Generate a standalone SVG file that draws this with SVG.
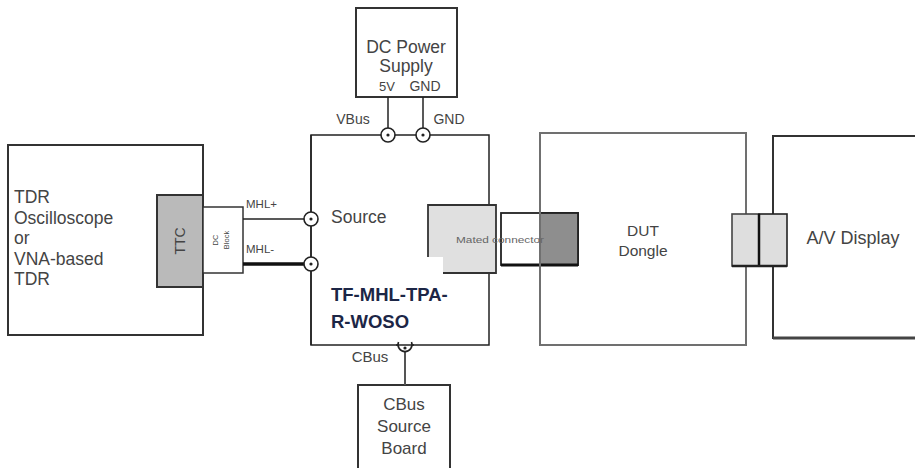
<svg xmlns="http://www.w3.org/2000/svg" width="915" height="468" viewBox="0 0 915 468">
<style>
text{font-family:"Liberation Sans",Arial,sans-serif;fill:#444}
.box{fill:#fff;stroke:#333;stroke-width:2}
.gbox{fill:#fff;stroke:#707070;stroke-width:2}
.wire{stroke:#222;stroke-width:1.5;fill:none}
.port{fill:#fff;stroke:#222;stroke-width:1.6}
.dot{fill:#222}
</style>
<defs>
<g id="port"><circle class="port" r="7"/><circle class="dot" r="1.6"/></g>
</defs>

<g id="tdr">
<rect class="box" x="8" y="145" width="195" height="190"/>
<text x="14" y="203" font-size="17.5">TDR</text>
<text x="14" y="223.5" font-size="17.5">Oscilloscope</text>
<text x="14" y="244" font-size="17.5">or</text>
<text x="14" y="264.5" font-size="17.5">VNA-based</text>
<text x="14" y="285" font-size="17.5">TDR</text>
</g>
<g id="ttc">
<rect x="157" y="195" width="46" height="92" fill="#bababa" stroke="#333" stroke-width="2"/>
<text transform="translate(185,241) rotate(-90)" font-size="14" text-anchor="middle">TTC</text>
</g>
<g id="dcblock">
<rect x="203" y="207" width="40" height="66" fill="#fff" stroke="#333" stroke-width="1.5"/>
<text transform="translate(218,240) rotate(-90)" font-size="7.5" text-anchor="middle">DC</text>
<text transform="translate(229,240) rotate(-90)" font-size="7.5" text-anchor="middle">Block</text>
</g>

<g id="dcpower">
<rect class="box" x="356" y="8" width="101" height="89"/>
<text x="406" y="53" font-size="17.5" text-anchor="middle">DC Power</text>
<text x="406" y="72" font-size="17.5" text-anchor="middle">Supply</text>
<text x="387" y="91" font-size="13" text-anchor="middle">5V</text>
<text x="425" y="91" font-size="14" text-anchor="middle">GND</text>
</g>

<g id="tfmhl">
<rect x="311" y="135" width="178" height="210" fill="#fff" stroke="#222" stroke-width="1.5"/>
<text x="331" y="223" font-size="17.5">Source</text>
<text x="331" y="301" font-size="18.5" font-weight="bold" style="fill:#1c2646">TF-MHL-TPA-</text>
<text x="331" y="328" font-size="18.5" font-weight="bold" style="fill:#1c2646">R-WOSO</text>
<text x="353" y="124" font-size="14" text-anchor="middle">VBus</text>
<text x="449" y="124" font-size="14" text-anchor="middle">GND</text>
<text x="370" y="362" font-size="15" text-anchor="middle">CBus</text>
</g>

<g id="cbus">
<rect class="box" x="358" y="385" width="92" height="95"/>
<text x="404" y="410" font-size="17" text-anchor="middle">CBus</text>
<text x="404" y="432" font-size="17" text-anchor="middle">Source</text>
<text x="404" y="454" font-size="17" text-anchor="middle">Board</text>
</g>

<g id="dut">
<rect class="gbox" x="540" y="133" width="206" height="212"/>
<text x="643" y="236" font-size="15.5" text-anchor="middle">DUT</text>
<text x="643" y="256" font-size="15.5" text-anchor="middle">Dongle</text>
</g>

<g id="display">
<rect class="box" x="773" y="136" width="160" height="202"/>
<line x1="773" y1="338" x2="915" y2="338" stroke="#444" stroke-width="3"/>
<text x="853" y="244" font-size="18" text-anchor="middle">A/V Display</text>
</g>

<g id="connectors">
<line class="wire" x1="243" y1="219" x2="311" y2="219"/>
<line x1="243" y1="264" x2="311" y2="264" stroke="#111" stroke-width="3.5"/>
<text x="246" y="208" font-size="11.5">MHL+</text>
<text x="246" y="253" font-size="11.5">MHL-</text>
<line x1="311" y1="135" x2="311" y2="345" stroke="#222" stroke-width="1.5"/>
<use href="#port" x="311" y="219"/>
<use href="#port" x="311" y="264"/>
<line class="wire" x1="388" y1="97" x2="388" y2="135"/>
<line class="wire" x1="423" y1="97" x2="423" y2="135"/>
<use href="#port" x="388" y="135"/>
<use href="#port" x="423" y="135"/>
<line x1="405" y1="345" x2="405" y2="385" stroke="#555" stroke-width="2"/>
<path d="M398.5,342 A7,7 0 1,0 411.5,342" fill="#fff" stroke="#222" stroke-width="1.6"/>
<line x1="396" y1="345" x2="414" y2="345" stroke="#222" stroke-width="1.5"/>
<circle class="dot" cx="405" cy="348" r="1.6"/>

<path d="M428,205 H496 V273 H443 V257 H428 Z" fill="#e0e0e0" stroke="none"/>
<path d="M428,257 V205 H496 V273 H443" fill="none" stroke="#333" stroke-width="1.8"/>
<rect x="501" y="213" width="77" height="52" fill="#fff" stroke="#222" stroke-width="1.8"/>
<rect x="540" y="213" width="38" height="52" fill="#8e8e8e" stroke="#222" stroke-width="1.8"/>
<line x1="501" y1="265" x2="578" y2="265" stroke="#111" stroke-width="3"/>
<line x1="540" y1="133" x2="540" y2="345" stroke="#707070" stroke-width="2"/>
<text x="500" y="243" font-size="9" text-anchor="middle" textLength="88" lengthAdjust="spacingAndGlyphs" style="fill:#666">Mated connector</text>

<rect x="732" y="214" width="27" height="52" fill="#dedede" stroke="#444" stroke-width="1.6"/>
<rect x="759" y="214" width="28" height="52" fill="#dedede" stroke="#222" stroke-width="1.6"/>
<line x1="759" y1="214" x2="759" y2="266" stroke="#111" stroke-width="2.5"/>
<line x1="732" y1="266" x2="787" y2="266" stroke="#222" stroke-width="2.5"/>
</g>
</svg>
